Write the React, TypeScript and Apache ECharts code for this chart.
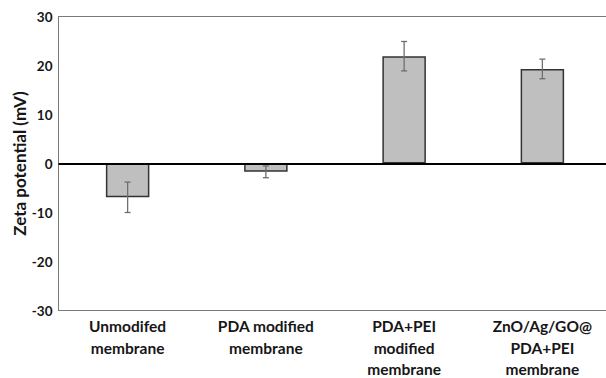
import React, { useEffect, useRef } from "react";
import * as echarts from "echarts";

const categories = [
  "Unmodifed\nmembrane",
  "PDA modified\nmembrane",
  "PDA+PEI\nmodified\nmembrane",
  "ZnO/Ag/GO@\nPDA+PEI\nmembrane",
];
const zetaValues = [-6.9, -1.7, 21.9, 19.3];
const zetaErrors = [3.1, 1.2, 3.0, 2.0];
const yTicks = { min: -30, max: 30, interval: 10 };

export default function App() {
  const ref = useRef<HTMLDivElement>(null);
  useEffect(() => {
    if (!ref.current) return;
    const chart = echarts.init(ref.current, null, { renderer: "svg" });
    const font = "Lato, 'Open Sans', sans-serif";
    chart.setOption({
      animation: false,
      backgroundColor: "#ffffff",
      grid: {
        left: 58.5,
        top: 16.5,
        width: 553,
        height: 294,
        outerBoundsMode: "none",
        containLabel: false,
        show: true,
        borderColor: "#7a7a7a",
        borderWidth: 1,
        backgroundColor: "transparent",
      },
      xAxis: {
        type: "category",
        data: categories,
        axisLine: { show: false, onZero: false },
        axisTick: { show: false },
        axisLabel: {
          interval: 0,
          margin: 5,
          color: "#161616",
          fontFamily: font,
          fontWeight: "bold",
          fontSize: 15.5,
          lineHeight: 21.5,
          align: "center",
        },
      },
      yAxis: {
        type: "value",
        min: yTicks.min,
        max: yTicks.max,
        interval: yTicks.interval,
        splitLine: { show: false },
        axisLine: { show: true, lineStyle: { color: "#7a7a7a", width: 1 } },
        axisTick: { show: false },
        axisLabel: {
          color: "#161616",
          fontFamily: font,
          fontWeight: "bold",
          fontSize: 13.5,
          margin: 6,
        },
        name: "Zeta potential (mV)",
        nameLocation: "middle",
        nameGap: 31,
        nameMoveOverlap: false,
        nameTextStyle: {
          color: "#161616",
          fontFamily: font,
          fontWeight: "bold",
          fontSize: 17,
        },
      },
      series: [
        {
          type: "bar",
          data: zetaValues,
          barWidth: 43.5,
          itemStyle: { color: "#bfbfbf", borderColor: "#333333", borderWidth: 1.5 },
          markLine: {
            silent: true,
            symbol: ["none", "none"],
            label: { show: false },
            lineStyle: { color: "#000000", width: 2, type: "solid" },
            data: [{ yAxis: 0 }],
          },
          z: 2,
        },
        {
          type: "custom",
          data: zetaValues.map((v, i) => [i, v - zetaErrors[i], v + zetaErrors[i]]),
          z: 3,
          renderItem: (params: any, api: any) => {
            const x = api.value(0);
            const lo = api.coord([x, api.value(1)]);
            const hi = api.coord([x, api.value(2)]);
            const hw = 3;
            const style = { stroke: "#6e6e6e", lineWidth: 1.3 };
            return {
              type: "group",
              children: [
                { type: "line", shape: { x1: lo[0], y1: lo[1], x2: hi[0], y2: hi[1] }, style },
                { type: "line", shape: { x1: lo[0] - hw, y1: lo[1], x2: lo[0] + hw, y2: lo[1] }, style },
                { type: "line", shape: { x1: hi[0] - hw, y1: hi[1], x2: hi[0] + hw, y2: hi[1] }, style },
              ],
            };
          },
        },
      ],
    });
    return () => chart.dispose();
  }, []);
  return <div ref={ref} style={{ width: 606, height: 378, position: "absolute", left: 0, top: 0 }} />;
}
